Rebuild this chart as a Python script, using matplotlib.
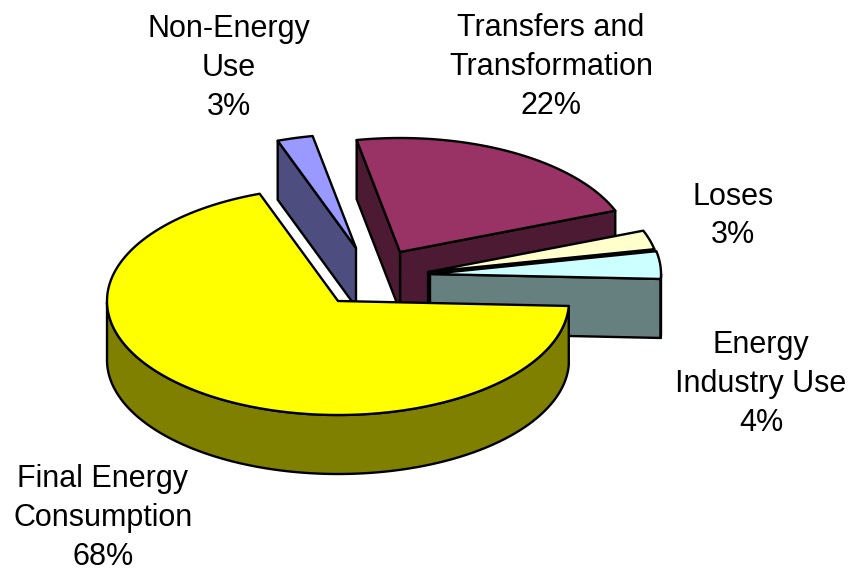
import numpy as np
import matplotlib
matplotlib.use("Agg")
import matplotlib.pyplot as plt

plt.rcParams['font.family'] = ['Liberation Sans', 'DejaVu Sans']

# order is clockwise, starting just below 3 o'clock
names = ["Final Energy\nConsumption", "Non-Energy\nUse", "Transfers and\nTransformation", "Loses", "Energy\nIndustry Use"]
shown_pct = ["68%", "3%", "22%", "3%", "4%"]
shares = [68.8, 2.5, 22.1, 2.7, 3.9]   # measured off the slices, the printed labels are rounded

top_colors = ["#FFFF00", "#9999FF", "#993366", "#FFFFCC", "#CCFFFF"]
side_colors = ["#808000", "#4D4D80", "#4D1A33", "#808066", "#668080"]

# layout, in pixels of the picture
apex_x = [338, 356, 400, 428, 430]
apex_y = [301, 248, 252, 272, 274]
label_x = [103, 229, 551, 733, 761]
label_y = [518, 68, 67, 216, 384]
rx = 231
ry = 114
depth = 59
start = -2.5
draw_order = [1, 2, 3, 4, 0]

fig = plt.figure(figsize=(8.49, 5.71), dpi=100)
ax = fig.add_axes([0, 0, 1, 1])
ax.set_xlim(0, 849)
ax.set_ylim(571, 0)
ax.axis("off")

sweeps = np.array(shares) / sum(shares) * 360
highs = start - np.concatenate(([0], np.cumsum(sweeps)[:-1]))
lows = highs - sweeps


def rim(cx, cy, t):
    t = np.radians(t)
    return cx + rx * np.cos(t), cy - ry * np.sin(t)


def shape(xs, ys, color):
    ax.fill(xs, ys, facecolor=color, edgecolor="black", linewidth=1.7, joinstyle="round")


for i in draw_order:
    cx, cy = apex_x[i], apex_y[i]
    hi, lo = highs[i], lows[i]

    # flat side faces, only those turned towards the viewer
    if np.cos(np.radians(lo)) > 0:
        ex, ey = rim(cx, cy, lo)
        shape([cx, ex, ex, cx], [cy, ey, ey + depth, cy + depth], side_colors[i])
    if np.cos(np.radians(hi)) < 0:
        ex, ey = rim(cx, cy, hi)
        shape([cx, ex, ex, cx], [cy, ey, ey + depth, cy + depth], side_colors[i])

    # curved outer wall, the part below the middle of the ellipse
    t = np.linspace(hi, lo, 400)
    t = t[np.sin(np.radians(t)) <= 0]
    if len(t) > 1:
        x, y = rim(cx, cy, t)
        shape(np.r_[x, x[::-1]], np.r_[y, y[::-1] + depth], side_colors[i])

    # top face
    t = np.linspace(hi, lo, 200)
    x, y = rim(cx, cy, t)
    shape(np.r_[cx, x], np.r_[cy, y], top_colors[i])

for i in range(len(names)):
    ax.text(label_x[i], label_y[i], names[i] + "\n" + shown_pct[i], ha="center", va="center",
            fontsize=22, linespacing=1.39, color="black")

plt.savefig("out.png", dpi=100)
